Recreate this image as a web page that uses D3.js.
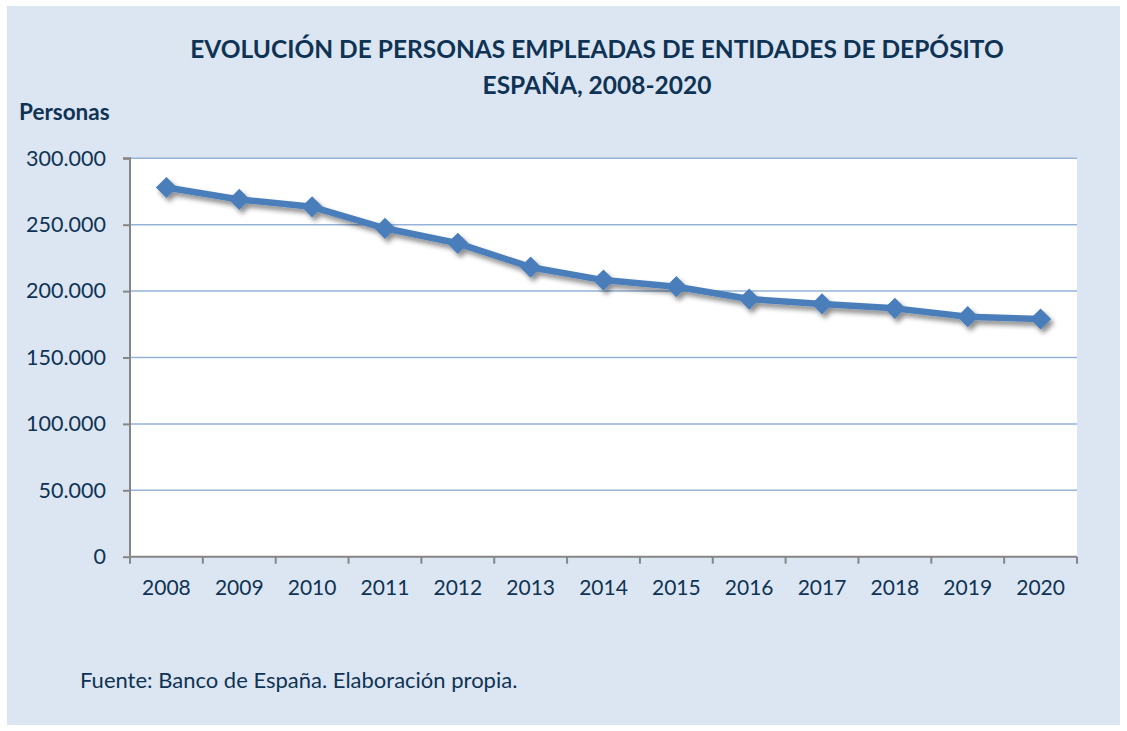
<!DOCTYPE html>
<html><head><meta charset="utf-8">
<script src="https://cdn.jsdelivr.net/npm/d3@7"></script>
<style>
html,body{margin:0;padding:0;background:#fff;}
svg{display:block;}
</style></head>
<body>
<svg id="chart" width="1127" height="731"></svg>
<script>
const years = ["2008","2009","2010","2011","2012","2013","2014","2015","2016","2017","2018","2019","2020"];
const empleados = [278000,269000,263500,247300,236000,218000,208300,203300,194000,190300,187000,180700,179000];
const yTicks = [0,50000,100000,150000,200000,250000,300000];
const titleLines = ["EVOLUCIÓN DE PERSONAS EMPLEADAS DE ENTIDADES DE DEPÓSITO","ESPAÑA, 2008-2020"];
const yAxisTitle = "Personas";
const sourceNote = "Fuente: Banco de España. Elaboración propia.";

(function(){
const font = "Lato, 'Open Sans', sans-serif";
const textColor = "#0f3354";
const svg = d3.select("#chart");

svg.append("rect").attr("x",7).attr("y",6).attr("width",1113).attr("height",719).attr("fill","#dce6f2");

const pl=130, pr=1077, pt=158.3, pb=556.7;
const x = d3.scaleBand().domain(years).range([pl,pr]);
const y = d3.scaleLinear().domain([0,300000]).range([pb,pt]);

svg.append("rect").attr("x",pl).attr("y",pt).attr("width",pr-pl).attr("height",pb-pt).attr("fill","#fff");

const defs = svg.append("defs");
const f = defs.append("filter").attr("id","shadow").attr("x","-10%").attr("y","-20%").attr("width","130%").attr("height","160%");
f.append("feGaussianBlur").attr("in","SourceAlpha").attr("stdDeviation",2.5).attr("result","b");
f.append("feOffset").attr("in","b").attr("dx",2.5).attr("dy",3.5).attr("result","o");
f.append("feComponentTransfer").attr("in","o").attr("result","o2").append("feFuncA").attr("type","linear").attr("slope",0.45);
const m = f.append("feMerge"); m.append("feMergeNode").attr("in","o2"); m.append("feMergeNode").attr("in","SourceGraphic");

svg.append("g").selectAll("line").data(yTicks.filter(d=>d>0)).join("line")
  .attr("x1",pl).attr("x2",pr).attr("y1",d=>y(d)).attr("y2",d=>y(d))
  .attr("stroke","#95b3d7").attr("stroke-width",1.5);

const yAxis = d3.axisLeft(y).tickValues(yTicks).tickSize(7).tickPadding(17)
  .tickFormat(d=> d===0 ? "0" : d3.format(",")(d).replace(/,/g,"."));
const gy = svg.append("g").attr("transform",`translate(${pl},0)`).call(yAxis);
gy.select(".domain").attr("stroke","#868686").attr("stroke-width",2).attr("d",`M-7,${pt}H0V${pb}`);
gy.selectAll(".tick line").attr("stroke","#868686").attr("stroke-width",2);
gy.selectAll(".tick text").attr("fill",textColor).style("font-family",font).style("font-size","21.5px");

const xAxis = d3.axisBottom(x).tickSize(0).tickPadding(23);
const gx = svg.append("g").attr("transform",`translate(0,${pb})`).call(xAxis);
gx.select(".domain").attr("stroke","#868686").attr("stroke-width",2).attr("d",`M${pl},0H${pr}`);
gx.selectAll(".tick text").attr("fill",textColor).style("font-family",font).style("font-size","21px");
const bounds = years.map(d=>x(d)).concat([pr]);
gx.append("g").selectAll("line").data(bounds).join("line")
  .attr("x1",d=>d).attr("x2",d=>d).attr("y1",0).attr("y2",7)
  .attr("stroke","#868686").attr("stroke-width",2);

const cx = d=>x(d)+x.bandwidth()/2;
const g = svg.append("g").attr("filter","url(#shadow)");
g.append("path").datum(years.map((yr,i)=>[cx(yr),y(empleados[i])]))
  .attr("d",d3.line()).attr("fill","none").attr("stroke","#4a7ebb").attr("stroke-width",6.5).attr("stroke-linejoin","round");
g.selectAll("path.m").data(years).join("path").attr("class","m")
  .attr("d",d3.symbol(d3.symbolSquare, 225))
  .attr("transform",(d,i)=>`translate(${cx(d)},${y(empleados[i])}) rotate(45)`)
  .attr("fill","#4a7ebb");

svg.append("g").selectAll("text").data(titleLines).join("text")
  .attr("x",597).attr("y",(d,i)=>57.5+i*36).attr("text-anchor","middle")
  .attr("fill",textColor).style("font-family",font).style("font-weight","bold").style("font-size","24.5px").text(d=>d);
svg.append("text").attr("x",19).attr("y",119.5).attr("fill",textColor).style("font-family",font)
  .style("font-weight","bold").style("font-size","22.5px").text(yAxisTitle);
svg.append("text").attr("x",80).attr("y",688).attr("fill",textColor).style("font-family",font)
  .style("font-size","22px").text(sourceNote);
})();
</script>
</body></html>
